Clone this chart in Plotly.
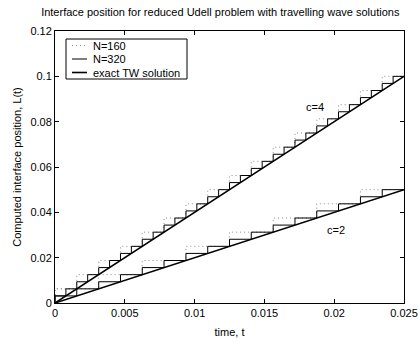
import plotly.graph_objects as go

# Interface levels (multiples of grid spacing)
levels_320 = [0, 0.003125, 0.00625, 0.009375, 0.0125, 0.015625, 0.01875, 0.021875, 0.025,
              0.028125, 0.03125, 0.034375, 0.0375, 0.040625, 0.04375, 0.046875, 0.05,
              0.053125, 0.05625, 0.059375, 0.0625, 0.065625, 0.06875, 0.071875, 0.075,
              0.078125, 0.08125, 0.084375, 0.0875, 0.090625, 0.09375, 0.096875, 0.1]
levels_160 = [0, 0.00625, 0.0125, 0.01875, 0.025, 0.03125, 0.0375, 0.04375, 0.05,
              0.05625, 0.0625, 0.06875, 0.075, 0.08125, 0.0875, 0.09375, 0.1]

# Jump times
t_c4_n320 = [0, 0.00078, 0.00156, 0.00234, 0.00313, 0.00391, 0.00469, 0.00547, 0.00625,
             0.00703, 0.00781, 0.00859, 0.00938, 0.01016, 0.01094, 0.01172, 0.0125,
             0.01328, 0.01406, 0.01484, 0.01563, 0.01641, 0.01719, 0.01797, 0.01875,
             0.01953, 0.02031, 0.02109, 0.02188, 0.02266, 0.02344, 0.02422, 0.025]
t_c4_n160 = [0, 0.00156, 0.00313, 0.00469, 0.00625, 0.00781, 0.00938, 0.01094, 0.0125,
             0.01406, 0.01563, 0.01719, 0.01875, 0.02031, 0.02188, 0.02344, 0.025]
t_c2_n320 = [0, 0.00156, 0.00313, 0.00469, 0.00625, 0.00781, 0.00938, 0.01094, 0.0125,
             0.01406, 0.01563, 0.01719, 0.01875, 0.02031, 0.02188, 0.02344, 0.025]
t_c2_n160 = [0, 0.00313, 0.00625, 0.00938, 0.0125, 0.01563, 0.01875, 0.02188, 0.025]

L_c4_n320 = levels_320
L_c4_n160 = levels_160
L_c2_n320 = levels_320[:17]
L_c2_n160 = levels_160[:9]

# Exact travelling-wave solutions
t_exact = [0, 0.025]
L_exact_c4 = [0, 0.1]
L_exact_c2 = [0, 0.05]

x_ticks = [0, 0.005, 0.01, 0.015, 0.02, 0.025]
x_tick_text = ["0", "0.005", "0.01", "0.015", "0.02", "0.025"]
y_ticks = [0, 0.02, 0.04, 0.06, 0.08, 0.1, 0.12]
y_tick_text = ["0", "0.02", "0.04", "0.06", "0.08", "0.1", "0.12"]

legend_labels = ["N=160", "N=320", "exact TW solution"]

FONT = "Liberation Sans, Arial, Helvetica, sans-serif"

fig = go.Figure()
dot = dict(color="#8c8c8c", width=1, dash="1px,3px")
thin = dict(color="black", width=1)
thick = dict(color="black", width=1.6)
styles = [dot, thin, thick]

fig.add_trace(go.Scatter(x=t_c4_n160, y=L_c4_n160, mode="lines", line=dict(shape="vh", **dot),
                         name=legend_labels[0]))
fig.add_trace(go.Scatter(x=t_c2_n160, y=L_c2_n160, mode="lines", line=dict(shape="vh", **dot),
                         name=legend_labels[0]))
fig.add_trace(go.Scatter(x=t_c4_n320, y=L_c4_n320, mode="lines", line=dict(shape="vh", **thin),
                         name=legend_labels[1]))
fig.add_trace(go.Scatter(x=t_c2_n320, y=L_c2_n320, mode="lines", line=dict(shape="vh", **thin),
                         name=legend_labels[1]))
fig.add_trace(go.Scatter(x=t_exact, y=L_exact_c4, mode="lines", line=thick,
                         name=legend_labels[2]))
fig.add_trace(go.Scatter(x=t_exact, y=L_exact_c2, mode="lines", line=thick,
                         name=legend_labels[2]))

fig.add_annotation(x=0.0186, y=0.0865, text="c=4", showarrow=False,
                   font=dict(size=11, color="black", family=FONT))
fig.add_annotation(x=0.0201, y=0.0322, text="c=2", showarrow=False,
                   font=dict(size=11, color="black", family=FONT))

# MATLAB-style boxed legend
W, H = 418, 342
ML, MR, MT, MB = 55, 14, 31, 39
pw, ph = W - ML - MR, H - MT - MB
px = lambda p: (p - ML) / pw
py = lambda p: (H - MB - p) / ph

fig.add_shape(type="rect", xref="paper", yref="paper",
              x0=px(66), x1=px(187), y0=py(79), y1=py(39),
              line=dict(color="black", width=1), fillcolor="white", layer="above")
for i, (lab, st) in enumerate(zip(legend_labels, styles)):
    yy = 45.5 + i * 13.5
    fig.add_shape(type="line", xref="paper", yref="paper",
                  x0=px(72), x1=px(87), y0=py(yy), y1=py(yy),
                  line=st, layer="above")
    fig.add_annotation(xref="paper", yref="paper", x=px(91), y=py(yy), text=lab,
                       showarrow=False, xanchor="left", yanchor="middle",
                       font=dict(size=11, color="black", family=FONT))

axis_common = dict(showline=True, linecolor="black", linewidth=1, mirror="ticks",
                   ticks="inside", ticklen=4, tickcolor="black", showgrid=False,
                   zeroline=False, automargin=False,
                   tickfont=dict(size=11, color="black", family=FONT))

fig.update_layout(
    width=W, height=H,
    margin=dict(l=ML, r=MR, t=MT, b=MB),
    paper_bgcolor="white", plot_bgcolor="white",
    font=dict(family=FONT, size=11, color="black"),
    title=dict(text="Interface position for reduced Udell problem with travelling wave solutions",
               x=0.527, xanchor="center", y=0.965, yanchor="middle",
               font=dict(size=11, color="black", family=FONT)),
    xaxis=dict(range=[0, 0.025], tickvals=x_ticks, ticktext=x_tick_text,
               title=dict(text="time, t", standoff=10, font=dict(size=11)), **axis_common),
    yaxis=dict(range=[0, 0.12], tickvals=y_ticks, ticktext=y_tick_text,
               title=dict(text="Computed interface position, L(t)", standoff=6, font=dict(size=11)),
               **axis_common),
    showlegend=False,
)

fig.write_html("out.html")
